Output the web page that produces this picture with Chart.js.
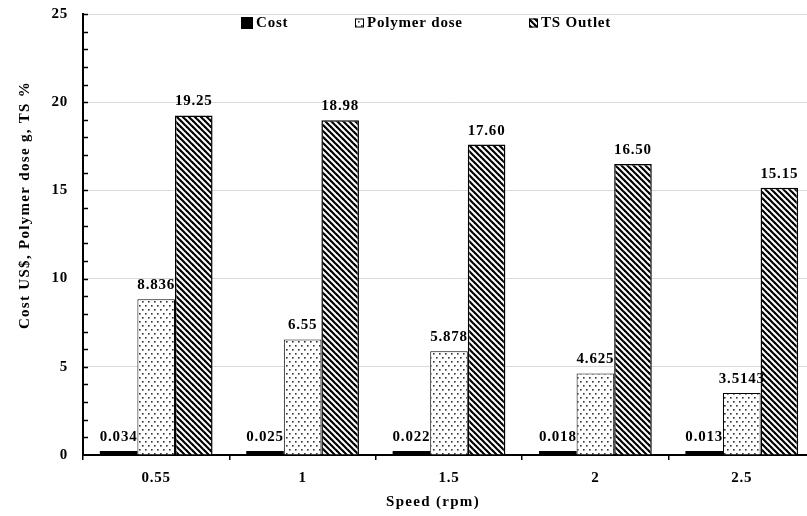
<!DOCTYPE html>
<html>
<head>
<meta charset="utf-8">
<script src="https://cdn.jsdelivr.net/npm/chart.js@4.4.0/dist/chart.umd.min.js"></script>
<style>
  html, body { margin: 0; padding: 0; background: #fff; overflow: hidden; }
  canvas { display: block; }
</style>
</head>
<body>
<canvas id="chart" width="825" height="516"></canvas>
<script>
const speeds = ['0.55', '1', '1.5', '2', '2.5']
const cost = [0.034, 0.025, 0.022, 0.018, 0.013]
const polymerDose = [8.836, 6.55, 5.878, 4.625, 3.5143]
const tsOutlet = [19.25, 18.98, 17.60, 16.50, 15.15]
const yTicks = [0, 5, 10, 15, 20, 25]

const FONT = '"Liberation Serif", "Times New Roman", serif'
const ctx = document.getElementById('chart').getContext('2d')

// relleno de puntos (Polymer dose)
function dotPattern () {
  const c = document.createElement('canvas')
  c.width = 6; c.height = 8
  const g = c.getContext('2d')
  g.fillStyle = '#fff'
  g.fillRect(0, 0, 6, 8)
  g.fillStyle = '#333'
  g.fillRect(1, 1, 1.6, 1.6)
  g.fillRect(4, 5, 1.6, 1.6)
  return ctx.createPattern(c, 'repeat')
}

// rayado diagonal (TS Outlet)
function stripePattern () {
  const c = document.createElement('canvas')
  c.width = 6; c.height = 6
  const g = c.getContext('2d')
  g.fillStyle = '#fff'
  g.fillRect(0, 0, 6, 6)
  g.strokeStyle = '#000'
  g.lineWidth = 2.2
  for (let k = -1; k <= 1; k++) {
    g.beginPath()
    g.moveTo(-1, k * 6 - 1)
    g.lineTo(7, k * 6 + 7)
    g.stroke()
  }
  return ctx.createPattern(c, 'repeat')
}

const labelFormats = [v => String(v), v => String(v), v => v.toFixed(2)]

// espaciado de letras como en el original
const spacing = {
  id: 'spacing',
  beforeDraw (chart) { chart.ctx.letterSpacing = '0.8px' }
}

const valueLabels = {
  id: 'valueLabels',
  afterDatasetsDraw (chart) {
    const c = chart.ctx
    c.save()
    c.font = 'bold 15px ' + FONT
    c.fillStyle = '#000'
    c.textAlign = 'center'
    c.textBaseline = 'alphabetic'
    chart.data.datasets.forEach((ds, i) => {
      chart.getDatasetMeta(i).data.forEach((bar, j) => {
        c.fillText(labelFormats[i](ds.data[j]), bar.x, bar.y - 10)
      })
    })
    c.restore()
  }
}

const decorations = {
  id: 'decorations',
  afterDraw (chart) {
    const c = chart.ctx
    const y = chart.scales.y
    const left = chart.chartArea.left
    c.save()
    // marcas menores hacia dentro
    c.strokeStyle = '#000'
    c.lineWidth = 1.5
    for (let v = yTicks[0] + 1; v <= yTicks[yTicks.length - 1]; v++) {
      const py = Math.round(y.getPixelForValue(v)) + 0.5
      c.beginPath()
      c.moveTo(left, py)
      c.lineTo(left + 5, py)
      c.stroke()
    }

    // leyenda
    c.font = 'bold 15px ' + FONT
    c.textBaseline = 'middle'
    c.textAlign = 'left'
    const xs = [241, 355, 529]
    const ly = 23
    chart.data.datasets.forEach((ds, i) => {
      const size = i === 0 ? 12 : 9
      c.fillStyle = ds.backgroundColor
      c.fillRect(xs[i], ly - size / 2, size, size)
      if (i > 0) {
        c.strokeStyle = '#000'
        c.lineWidth = 1
        c.strokeRect(xs[i] + 0.5, ly - size / 2 + 0.5, size - 1, size - 1)
      }
      c.fillStyle = '#000'
      c.fillText(ds.label, xs[i] + size + 3, ly)
    })

    // títulos de ejes
    c.letterSpacing = '1.3px'
    c.textAlign = 'center'
    c.fillText('Speed (rpm)', 433, 502)
    c.translate(25, 205)
    c.rotate(-Math.PI / 2)
    c.fillText('Cost US$, Polymer dose g, TS %', 0, 0)
    c.restore()
  }
}

new Chart(ctx, {
  type: 'bar',
  data: {
    labels: speeds,
    datasets: [
      {
        label: 'Cost',
        data: cost,
        backgroundColor: '#000',
        borderWidth: 0,
        minBarLength: 4
      },
      {
        label: 'Polymer dose',
        data: polymerDose,
        backgroundColor: dotPattern(),
        borderColor: '#000',
        borderWidth: 1
      },
      {
        label: 'TS Outlet',
        data: tsOutlet,
        backgroundColor: stripePattern(),
        borderColor: '#000',
        borderWidth: 1.5
      }
    ]
  },
  options: {
    responsive: false,
    animation: false,
    categoryPercentage: 0.77,
    barPercentage: 1,
    layout: { padding: { top: 14, right: 10, left: 0, bottom: 0 } },
    plugins: {
      legend: { display: false },
      tooltip: { enabled: false }
    },
    scales: {
      x: {
        grid: { drawOnChartArea: false, drawTicks: true, tickLength: 5, color: '#000', lineWidth: 1.5 },
        border: { color: '#000', width: 2 },
        ticks: { color: '#000', padding: 9, font: { family: FONT, size: 15, weight: 'bold' } },
        afterFit: s => { s.height = 61 }
      },
      y: {
        min: yTicks[0],
        max: yTicks[yTicks.length - 1],
        grid: { color: '#d9d9d9', lineWidth: 1, drawTicks: false },
        border: { color: '#000', width: 2 },
        ticks: {
          stepSize: yTicks[1] - yTicks[0],
          color: '#000',
          padding: 15,
          font: { family: FONT, size: 15, weight: 'bold' }
        },
        afterFit: s => { s.width = 83; s.paddingTop = 0 }
      }
    }
  },
  plugins: [spacing, valueLabels, decorations]
})
</script>
</body>
</html>
